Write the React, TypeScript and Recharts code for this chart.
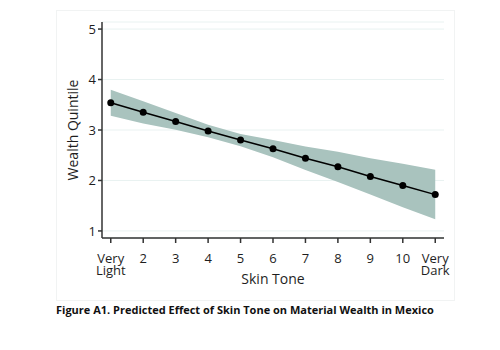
import React from "react";
import {
  ComposedChart,
  Area,
  Line,
  XAxis,
  YAxis,
  CartesianGrid,
} from "recharts";

const skinTone = [1, 2, 3, 4, 5, 6, 7, 8, 9, 10, 11];
const toneLabels = ["Very Light", "2", "3", "4", "5", "6", "7", "8", "9", "10", "Very Dark"];
const predicted = [3.54, 3.35, 3.17, 2.98, 2.8, 2.63, 2.44, 2.27, 2.08, 1.9, 1.72];
const ciLow = [3.28, 3.13, 3.005, 2.855, 2.68, 2.46, 2.205, 1.97, 1.72, 1.47, 1.23];
const ciHigh = [3.8, 3.57, 3.335, 3.105, 2.92, 2.8, 2.675, 2.57, 2.44, 2.33, 2.21];
const yTicks = [1, 2, 3, 4, 5];

const data = skinTone.map((t, i) => ({
  tone: t,
  wealth: predicted[i],
  band: [ciLow[i], ciHigh[i]],
}));

const FONT = "'Open Sans', sans-serif";
const TEXT = "#1e1e1e";

function ToneTick(props: any) {
  const { x, y, payload } = props;
  const lines = toneLabels[payload.value - 1].split(" ");
  return (
    <text x={x} y={y} textAnchor="middle" fill={TEXT} fontFamily={FONT} fontSize={13}>
      {lines.map((l: string, i: number) => (
        <tspan key={i} x={x} y={y + 18 + i * 12}>
          {l}
        </tspan>
      ))}
    </text>
  );
}

export default function App() {
  return (
    <div style={{ position: "absolute", left: 0, top: 0, width: 500, height: 350, background: "#fff" }}>
      <div
        style={{
          position: "absolute",
          left: 56,
          top: 10,
          width: 397,
          height: 289,
          border: "1px solid #f1f3f3",
        }}
      />
      <ComposedChart
        width={500}
        height={350}
        data={data}
        margin={{ top: 22, right: 56, left: 62, bottom: 62 }}
        style={{ position: "absolute", left: 0, top: 0 }}
      >
        <CartesianGrid horizontal vertical={false} stroke="#e9f2f1" strokeWidth={1} />
        <XAxis
          dataKey="tone"
          type="number"
          domain={[0.73, 11.27]}
          ticks={skinTone}
          interval={0}
          height={50}
          stroke="#333"
          strokeWidth={1.5}
          tickSize={5}
          tick={<ToneTick />}
          allowDataOverflow
          label={{
            content: (p: any) => {
              const vb = p.viewBox;
              return (
                <text
                  x={vb.x + vb.width / 2}
                  y={vb.y + 46}
                  textAnchor="middle"
                  fill={TEXT}
                  fontFamily={FONT}
                  fontSize={14}
                >
                  Skin Tone
                </text>
              );
            },
          }}
        />
        <YAxis
          type="number"
          domain={[0.86, 5.14]}
          ticks={yTicks}
          width={40}
          stroke="#333"
          strokeWidth={1.5}
          tickSize={4}
          allowDataOverflow
          tick={{ fill: TEXT, fontFamily: FONT, fontSize: 13 }}
          label={{
            content: (p: any) => {
              const vb = p.viewBox;
              const cx = vb.x + 10;
              const cy = vb.y + vb.height / 2;
              return (
                <text
                  x={cx}
                  y={cy}
                  transform={`rotate(-90 ${cx} ${cy})`}
                  textAnchor="middle"
                  dominantBaseline="central"
                  fill={TEXT}
                  fontFamily={FONT}
                  fontSize={14}
                >
                  Wealth Quintile
                </text>
              );
            },
          }}
        />
        <Area
          dataKey="band"
          type="linear"
          stroke="none"
          fill="#a9c3be"
          fillOpacity={1}
          isAnimationActive={false}
        />
        <Line
          dataKey="wealth"
          type="linear"
          stroke="#000"
          strokeWidth={1.5}
          dot={{ r: 3.5, fill: "#000", stroke: "#000", strokeWidth: 0 }}
          isAnimationActive={false}
        />
      </ComposedChart>
      <div
        style={{
          position: "absolute",
          left: 56,
          top: 303,
          fontFamily: FONT,
          fontWeight: 700,
          fontSize: 11,
          lineHeight: "14px",
          color: "#111",
          whiteSpace: "nowrap",
        }}
      >
        Figure A1. Predicted Effect of Skin Tone on Material Wealth in Mexico
      </div>
    </div>
  );
}
